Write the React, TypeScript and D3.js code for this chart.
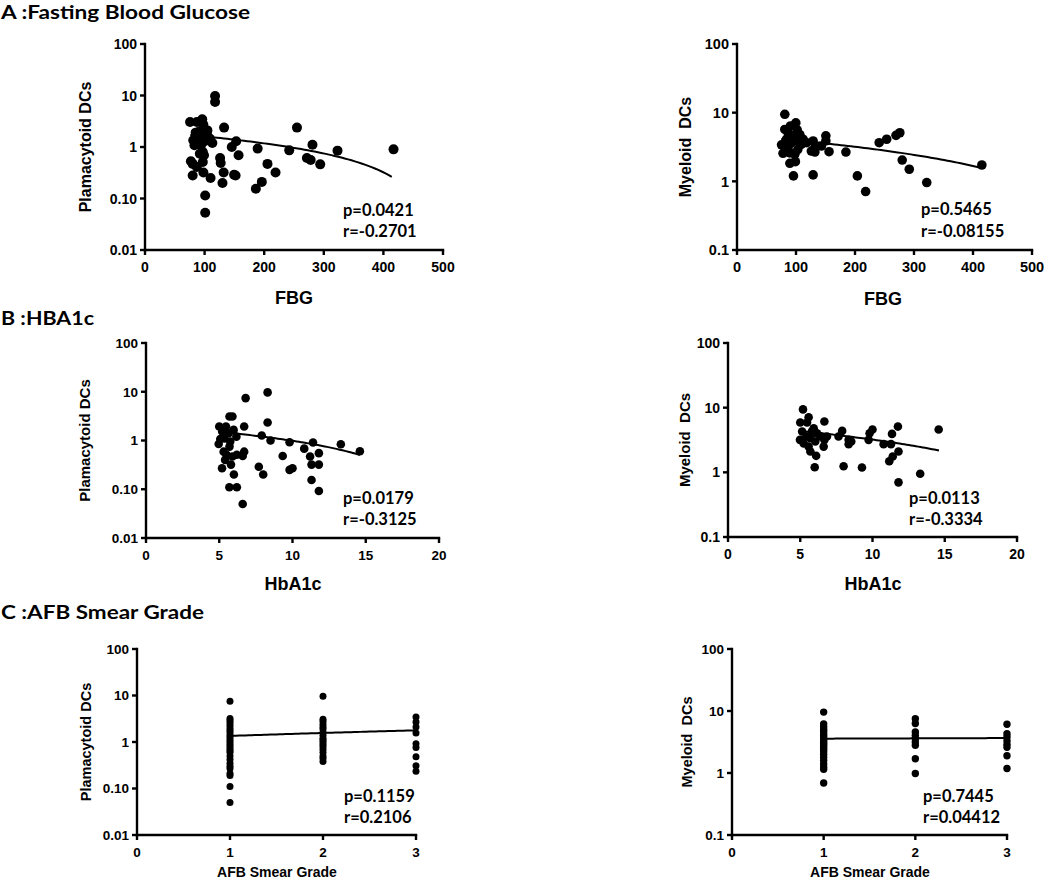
import React from "react";
import * as d3 from "d3";

// ---------- data ----------
const fbgPdc: [number, number][] = [
  [75.6, 3.07], [87, 3.07], [96, 3.45], [98, 2.7], [117.6, 9.8], [117.6, 7.5], [132.7, 2.38],
  [89.6, 1.96], [102, 1.96], [92, 1.7], [104, 1.7], [83, 1.08], [81, 1.35], [87, 1.25],
  [94, 1.08], [109, 1.45], [113, 1.2], [97, 0.8], [92, 0.74], [99, 0.69], [97, 0.51],
  [77, 0.53], [80, 0.47], [87, 0.41], [80, 0.28], [98, 0.32], [110, 0.25], [101, 0.114],
  [101, 0.053], [126, 0.61], [127, 0.49], [132, 0.32], [130, 0.2], [145.6, 1.0], [153, 1.29],
  [157, 0.69], [149.5, 0.29], [152, 0.28], [189, 0.93], [205.5, 0.47], [219, 0.32], [196, 0.21],
  [186, 0.155], [242, 0.86], [255, 2.38], [281, 1.11], [271.6, 0.61], [278, 0.56], [294, 0.46],
  [323, 0.85], [417, 0.9], [95, 2.1], [104.7, 2.1], [90, 1.5], [100, 1.3], [85, 1.9], [106, 1.55],
];

const fbgMdc: [number, number][] = [
  [81, 9.46], [99.7, 7.1], [90.6, 6.4], [81, 5.7], [86.6, 5.1], [102, 5.6], [95.7, 4.6],
  [75.5, 3.4], [84, 4.1], [92.5, 3.65], [101, 3.9], [112, 4.1], [109, 3.45], [118, 3.65],
  [78, 2.56], [89.6, 2.6], [98, 2.47], [89.6, 1.83], [99, 1.93], [95.7, 1.2], [129, 1.24],
  [129, 3.87], [132, 3.1], [126, 2.76], [132, 2.67], [150.6, 4.6], [150.6, 3.87], [143, 3.27],
  [156, 2.7], [184.6, 2.67], [204, 1.2], [218, 0.71], [241, 3.65], [253.7, 4.1], [269.5, 4.67],
  [276, 5.1], [280, 2.04], [292, 1.5], [321.6, 0.96], [415, 1.73], [106.5, 4.8], [86.6, 3.1],
  [103, 2.9],
];

const hbaPdc: [number, number][] = [
  [5.0, 1.94], [5.46, 1.94], [5.7, 3.1], [5.9, 3.1], [5.07, 1.07], [4.96, 0.85], [5.35, 1.1],
  [5.64, 1.41], [5.98, 1.65], [6.17, 1.2], [5.3, 0.59], [5.7, 0.75], [5.5, 0.51], [5.9, 0.47],
  [6.2, 0.51], [6.6, 0.48], [6.7, 0.59], [5.19, 0.27], [5.4, 0.4], [5.8, 0.32], [6.0, 0.2],
  [5.69, 0.11], [6.2, 0.11], [6.6, 0.05], [6.8, 7.4], [6.7, 1.94], [8.3, 9.7], [8.3, 2.34],
  [7.9, 1.27], [8.5, 1.0], [7.7, 0.29], [8.0, 0.2], [9.33, 0.48], [9.8, 0.92], [9.8, 0.25],
  [10.0, 0.27], [10.8, 0.68], [11.2, 0.47], [11.4, 0.91], [11.3, 0.32], [11.8, 0.55],
  [11.8, 0.32], [11.3, 0.155], [11.8, 0.092], [13.3, 0.84], [14.6, 0.6], [5.2, 1.53], [5.75, 0.95],
];

const hbaMdc: [number, number][] = [
  [5.19, 9.4], [5.0, 5.9], [5.58, 7.1], [5.47, 5.9], [5.13, 4.27], [4.98, 3.18], [5.42, 3.58],
  [5.93, 4.8], [5.7, 3.38], [6.16, 4.0], [6.04, 3.0], [5.58, 2.5], [5.7, 2.1], [6.1, 1.8],
  [6.0, 1.2], [6.67, 6.1], [6.67, 3.18], [6.62, 2.5], [6.85, 3.58], [7.9, 4.37], [7.65, 3.58],
  [8.35, 3.18], [8.35, 2.73], [8.53, 3.0], [8.0, 1.24], [9.27, 1.19], [9.73, 3.18], [9.8, 4.03],
  [10.0, 4.6], [10.77, 2.73], [11.28, 2.73], [11.35, 3.93], [11.76, 5.1], [11.8, 2.1],
  [11.4, 1.76], [11.16, 1.48], [11.8, 0.7], [13.3, 0.95], [14.58, 4.6], [5.24, 2.8],
  [5.8, 4.27], [6.4, 3.6],
];

const afbPdcGrade1: number[] = [7.5, 3.2, 2.9, 2.6, 2.3, 2.0, 1.8, 1.6, 1.4, 1.25, 1.1, 1.0, 0.9, 0.8, 0.72, 0.65, 0.6, 0.5, 0.42, 0.35, 0.3, 0.27, 0.21, 0.19, 0.11, 0.05];
const afbPdcGrade2: number[] = [9.6, 3.1, 2.8, 2.4, 2.1, 1.9, 1.6, 1.4, 1.2, 1.1, 1.0, 0.9, 0.8, 0.7, 0.6, 0.5, 0.45, 0.38];
const afbPdcGrade3: number[] = [3.45, 2.7, 2.1, 1.56, 0.92, 0.76, 0.48, 0.31, 0.235];

const afbMdcGrade1: number[] = [9.6, 6.2, 5.6, 5.1, 4.7, 4.3, 4.0, 3.7, 3.4, 3.2, 3.0, 2.8, 2.6, 2.4, 2.2, 2.0, 1.8, 1.6, 1.4, 1.25, 1.15, 0.69];
const afbMdcGrade2: number[] = [7.5, 6.3, 4.6, 4.05, 3.6, 3.16, 2.8, 1.7, 0.98];
const afbMdcGrade3: number[] = [6.1, 4.3, 3.8, 3.3, 2.9, 2.6, 1.9, 1.18];

// linear regression lines (intercept, slope, x-range) as drawn
const fbgPdcFit = { intercept: 2.03, slope: -0.00427, from: 76, to: 414 };
const fbgMdcFit = { intercept: 4.7, slope: -0.00757, from: 75, to: 413 };
const hbaPdcFit = { intercept: 2.03, slope: -0.1044, from: 5.0, to: 14.6 };
const hbaMdcFit = { intercept: 5.46, slope: -0.225, from: 5.0, to: 14.6 };
const afbPdcFit = { intercept: 1.135, slope: 0.215, from: 1, to: 3 };
const afbMdcFit = { intercept: 3.54, slope: 0.04, from: 1, to: 3 };

// tick values / labels
const fbgTicks = [0, 100, 200, 300, 400, 500];
const hbaTicks = [0, 5, 10, 15, 20];
const afbTicks = [0, 1, 2, 3];
const pdcTicks = [100, 10, 1, 0.1, 0.01];
const pdcTickLabels = ["100", "10", "1", "0.10", "0.01"];
const mdcTicks = [100, 10, 1, 0.1];
const mdcTickLabels = ["100", "10", "1", "0.1"];

const titles = ["A :Fasting Blood Glucose", "B :HBA1c", "C :AFB Smear Grade"];

const AXIS_FONT = "'Liberation Sans', Arial, sans-serif";
const STAT_FONT = "Lato, 'Open Sans', sans-serif";
const TITLE_FONT = "Lato, 'Open Sans', sans-serif";

const toPairs = (grade: number, vals: number[]): [number, number][] => vals.map((v) => [grade, v]);

type Fit = { intercept: number; slope: number; from: number; to: number };

type PanelProps = {
  x0: number; x1: number; yTop: number; yBottom: number;
  xDomain: [number, number]; yDomain: [number, number];
  xTicks: number[]; yTicks: number[]; yTickLabels: string[];
  data: [number, number][]; fit: Fit; r: number;
  yLabel: string; yLabelX: number; yLabelSize: number;
  xLabel: string; xLabelX: number; xLabelY: number; xLabelSize: number;
  stats: [string, string]; statsX: number; statsY: number;
  tickFont: number;
};

function Panel(p: PanelProps) {
  const xs = d3.scaleLinear().domain(p.xDomain).range([p.x0, p.x1]);
  const ys = d3.scaleLog().domain(p.yDomain).range([p.yBottom, p.yTop]);
  const n = 60;
  const pts: [number, number][] = d3.range(n + 1).map((i) => {
    const x = p.fit.from + ((p.fit.to - p.fit.from) * i) / n;
    return [x, p.fit.intercept + p.fit.slope * x];
  });
  const line = d3.line<[number, number]>().x((d) => xs(d[0])).y((d) => ys(d[1]));
  const sw = 2.4;
  const tl = 5;
  const yMid = (p.yTop + p.yBottom) / 2;
  return (
    <g>
      <line x1={p.x0} y1={p.yTop} x2={p.x0} y2={p.yBottom} stroke="#000" strokeWidth={sw} strokeLinecap="square" />
      <line x1={p.x0} y1={p.yBottom} x2={p.x1} y2={p.yBottom} stroke="#000" strokeWidth={sw} strokeLinecap="square" />
      {p.yTicks.map((t, i) => (
        <g key={"y" + i}>
          <line x1={p.x0 - tl} x2={p.x0} y1={ys(t)} y2={ys(t)} stroke="#000" strokeWidth={sw} />
          <text x={p.x0 - 8} y={ys(t)} dy="0.36em" textAnchor="end" fontFamily={AXIS_FONT} fontWeight="bold" fontSize={p.tickFont}>
            {p.yTickLabels[i]}
          </text>
        </g>
      ))}
      {p.xTicks.map((t, i) => (
        <g key={"x" + i}>
          <line x1={xs(t)} x2={xs(t)} y1={p.yBottom} y2={p.yBottom + tl} stroke="#000" strokeWidth={sw} />
          <text x={xs(t)} y={p.yBottom + 22} textAnchor="middle" fontFamily={AXIS_FONT} fontWeight="bold" fontSize={p.tickFont}>
            {String(t)}
          </text>
        </g>
      ))}
      <path d={line(pts) || ""} fill="none" stroke="#000" strokeWidth={2} />
      {p.data.map((d, i) => (
        <circle key={i} cx={xs(d[0])} cy={ys(d[1])} r={p.r} fill="#000" />
      ))}
      <text transform={`translate(${p.yLabelX},${yMid}) rotate(-90)`} textAnchor="middle" fontFamily={AXIS_FONT} fontWeight="bold" fontSize={p.yLabelSize} style={{ whiteSpace: "pre" }}>
        {p.yLabel}
      </text>
      <text x={p.xLabelX} y={p.xLabelY} textAnchor="middle" fontFamily={AXIS_FONT} fontWeight="bold" fontSize={p.xLabelSize}>
        {p.xLabel}
      </text>
      <text x={p.statsX} y={p.statsY} fontFamily={STAT_FONT} fontWeight="bold" fontSize={16.5}>{p.stats[0]}</text>
      <text x={p.statsX} y={p.statsY + 21.5} fontFamily={STAT_FONT} fontWeight="bold" fontSize={16.5}>{p.stats[1]}</text>
    </g>
  );
}

export default function App() {
  const afbPdc = [...toPairs(1, afbPdcGrade1), ...toPairs(2, afbPdcGrade2), ...toPairs(3, afbPdcGrade3)];
  const afbMdc = [...toPairs(1, afbMdcGrade1), ...toPairs(2, afbMdcGrade2), ...toPairs(3, afbMdcGrade3)];
  return (
    <svg width={1050} height={882} style={{ position: "absolute", left: 0, top: 0, background: "#fff" }}>
      <rect width={1050} height={882} fill="#fff" />
      <text x={1} y={19} fontFamily={TITLE_FONT} fontWeight="bold" fontSize={19} textLength={249} lengthAdjust="spacingAndGlyphs">{titles[0]}</text>
      <text x={1} y={325} fontFamily={TITLE_FONT} fontWeight="bold" fontSize={19} textLength={93} lengthAdjust="spacingAndGlyphs">{titles[1]}</text>
      <text x={1} y={619.3} fontFamily={TITLE_FONT} fontWeight="bold" fontSize={19} textLength={203} lengthAdjust="spacingAndGlyphs">{titles[2]}</text>

      <Panel x0={145} x1={443} yTop={44} yBottom={250} xDomain={[0, 500]} yDomain={[0.01, 100]}
        xTicks={fbgTicks} yTicks={pdcTicks} yTickLabels={pdcTickLabels} data={fbgPdc} fit={fbgPdcFit} r={5}
        yLabel="Plamacytoid DCs" yLabelX={90.5} yLabelSize={16} xLabel="FBG" xLabelX={294} xLabelY={304} xLabelSize={18}
        stats={["p=0.0421", "r=-0.2701"]} statsX={343} statsY={215.7} tickFont={14} />
      <Panel x0={737} x1={1032} yTop={44} yBottom={250} xDomain={[0, 500]} yDomain={[0.1, 100]}
        xTicks={fbgTicks} yTicks={mdcTicks} yTickLabels={mdcTickLabels} data={fbgMdc} fit={fbgMdcFit} r={4.8}
        yLabel="Myeloid  DCs" yLabelX={691} yLabelSize={16} xLabel="FBG" xLabelX={883} xLabelY={305} xLabelSize={18}
        stats={["p=0.5465", "r=-0.08155"]} statsX={921} statsY={215} tickFont={14.5} />

      <Panel x0={146} x1={439} yTop={343} yBottom={538} xDomain={[0, 20]} yDomain={[0.01, 100]}
        xTicks={hbaTicks} yTicks={pdcTicks} yTickLabels={pdcTickLabels} data={hbaPdc} fit={hbaPdcFit} r={4.3}
        yLabel="Plamacytoid DCs" yLabelX={90} yLabelSize={15} xLabel="HbA1c" xLabelX={293} xLabelY={590} xLabelSize={18}
        stats={["p=0.0179", "r=-0.3125"]} statsX={343} statsY={503.5} tickFont={13.5} />
      <Panel x0={728} x1={1017} yTop={343} yBottom={537} xDomain={[0, 20]} yDomain={[0.1, 100]}
        xTicks={hbaTicks} yTicks={mdcTicks} yTickLabels={mdcTickLabels} data={hbaMdc} fit={hbaMdcFit} r={4.3}
        yLabel="Myeloid  DCs" yLabelX={690} yLabelSize={15} xLabel="HbA1c" xLabelX={873} xLabelY={590} xLabelSize={18}
        stats={["p=0.0113", "r=-0.3334"]} statsX={909} statsY={503.7} tickFont={14} />

      <Panel x0={137} x1={416} yTop={649} yBottom={835} xDomain={[0, 3]} yDomain={[0.01, 100]}
        xTicks={afbTicks} yTicks={pdcTicks} yTickLabels={pdcTickLabels} data={afbPdc} fit={afbPdcFit} r={3.5}
        yLabel="Plamacytoid DCs" yLabelX={91} yLabelSize={14.5} xLabel="AFB Smear Grade" xLabelX={277} xLabelY={877} xLabelSize={14}
        stats={["p=0.1159", "r=0.2106"]} statsX={344} statsY={801.7} tickFont={13.5} />
      <Panel x0={732} x1={1007} yTop={649} yBottom={835} xDomain={[0, 3]} yDomain={[0.1, 100]}
        xTicks={afbTicks} yTicks={mdcTicks} yTickLabels={mdcTickLabels} data={afbMdc} fit={afbMdcFit} r={3.7}
        yLabel="Myeloid  DCs" yLabelX={692} yLabelSize={14.5} xLabel="AFB Smear Grade" xLabelX={870} xLabelY={877} xLabelSize={14}
        stats={["p=0.7445", "r=0.04412"]} statsX={923} statsY={801.7} tickFont={13.5} />
    </svg>
  );
}
